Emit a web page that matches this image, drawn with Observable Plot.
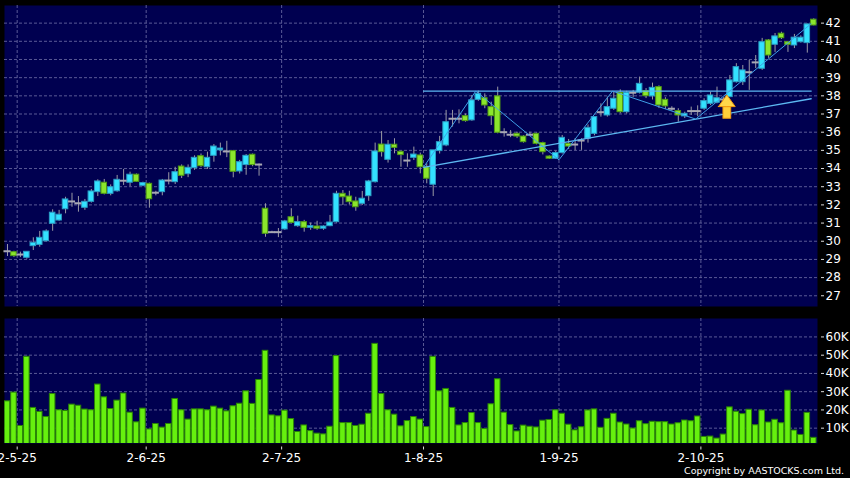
<!DOCTYPE html>
<html><head><meta charset="utf-8">
<script src="https://cdn.jsdelivr.net/npm/d3@7"></script>
<script src="https://cdn.jsdelivr.net/npm/@observablehq/plot@0.6"></script>
<style>
html,body{margin:0;padding:0;background:#000;}
#wrap{position:relative;width:850px;height:478px;overflow:hidden;background:#000;}
#wrap svg{display:block;}
#copy{position:absolute;right:6px;top:465px;line-height:12px;color:#fff;font:9.5px "DejaVu Sans",sans-serif;white-space:nowrap;}
</style></head><body><div id="wrap"></div>
<script>
// ---- data (trading-day index starts at -1) ----
const firstIndex = -1;
const open = [29.45,29.40,29.27,29.09,29.73,29.80,30.00,30.96,31.14,31.76,32.19,32.09,31.84,32.17,32.70,33.22,32.61,32.75,33.33,33.22,33.66,33.05,33.16,32.67,32.70,33.34,33.25,34.11,33.69,34.02,34.68,34.07,34.70,35.00,34.94,34.96,33.84,34.19,34.76,34.22,31.79,30.50,30.50,30.65,31.32,30.83,31.05,30.74,30.81,30.69,30.83,31.05,32.61,32.46,32.19,32.06,32.48,33.25,35.32,34.48,35.31,34.92,34.44,34.59,34.72,34.07,33.11,34.96,35.27,36.74,36.74,36.88,36.65,37.78,37.87,37.38,37.97,36.00,35.86,35.91,35.76,35.86,35.91,35.40,34.66,34.54,34.85,35.36,35.32,35.54,35.64,35.91,37.10,36.92,37.29,38.17,37.10,38.17,38.17,38.26,37.97,38.48,37.78,37.29,37.16,36.87,37.16,37.16,37.29,37.56,37.62,37.80,37.93,38.75,38.75,39.30,39.84,39.49,41.05,40.81,41.42,40.95,40.77,40.95,40.90,42.19];
const high = [29.82,29.45,29.40,29.42,30.19,30.54,30.63,31.73,31.70,32.42,32.64,32.46,32.30,32.85,33.38,33.40,33.10,33.62,33.95,33.80,33.70,33.25,33.20,32.75,33.40,33.77,34.07,34.20,34.20,34.70,34.80,34.90,35.32,35.40,35.50,35.00,34.45,34.77,34.80,34.25,32.06,30.55,30.70,31.15,31.79,31.38,31.15,31.00,31.10,30.85,31.42,32.75,32.79,32.75,32.42,32.74,33.35,35.40,36.04,35.54,35.64,34.95,34.81,35.18,34.85,34.26,35.00,35.77,37.20,37.20,37.23,37.00,38.02,38.26,38.11,37.65,38.48,36.19,36.09,36.00,35.80,36.00,35.95,35.45,34.70,34.95,35.82,35.60,35.64,35.64,36.40,36.85,37.56,37.93,38.20,38.33,38.25,38.30,39.03,38.40,38.70,38.55,37.90,37.40,37.29,37.10,37.38,37.45,37.84,38.20,38.48,37.90,39.12,39.77,39.67,39.95,40.22,41.16,41.10,41.43,41.50,41.00,41.38,41.30,41.95,42.24];
const low = [29.16,29.10,29.10,29.01,29.49,29.67,29.97,30.55,31.10,31.51,31.87,31.60,31.70,32.10,32.46,32.55,32.50,32.70,33.07,33.00,33.25,33.00,31.82,32.50,32.50,33.10,33.12,33.45,33.50,33.90,34.05,33.95,34.35,34.70,34.60,33.49,33.70,33.63,34.10,33.58,30.22,30.45,30.20,30.60,30.96,30.77,30.50,30.60,30.60,30.60,30.80,31.00,31.97,32.00,31.65,31.97,32.20,33.20,34.63,34.30,34.81,34.07,34.07,34.44,33.71,33.16,32.46,34.80,35.20,36.28,36.46,36.55,36.60,37.70,37.29,36.37,35.91,35.73,35.70,35.65,35.40,35.75,35.30,34.75,34.50,34.50,34.80,35.05,34.99,35.00,35.40,35.80,36.83,36.83,37.20,37.01,37.00,37.90,38.10,37.85,37.77,37.30,37.25,37.15,36.55,36.75,36.92,36.85,37.20,37.47,37.56,37.70,37.90,38.70,38.57,38.30,39.50,39.40,40.06,40.39,41.10,40.39,40.60,40.90,40.35,41.85];
const close = [29.45,29.18,29.27,29.42,29.91,30.19,30.54,31.57,31.46,32.30,32.19,32.09,32.17,32.74,33.29,32.61,32.97,33.38,33.33,33.66,33.27,33.20,32.31,32.67,33.34,33.34,33.80,33.60,34.04,34.59,34.13,34.59,35.21,35.10,34.94,33.82,34.35,34.70,34.19,34.22,30.41,30.50,30.50,31.09,31.01,31.05,30.74,30.83,30.69,30.81,31.03,32.61,32.42,32.15,31.87,32.34,33.29,34.94,34.90,35.31,35.14,34.74,34.44,34.77,34.07,33.44,35.00,35.45,36.55,36.74,36.74,36.61,37.75,38.11,37.47,36.88,35.97,36.00,35.86,35.76,35.45,35.86,35.36,34.90,34.54,34.85,35.69,35.21,35.32,35.54,36.24,36.83,37.10,37.38,37.84,37.10,38.17,38.17,38.66,37.98,38.44,37.47,37.42,37.29,36.92,37.01,37.16,37.16,37.71,38.02,37.87,37.80,38.85,39.58,39.40,39.30,39.84,40.95,40.22,41.27,41.17,40.81,41.20,41.20,41.93,41.87];
const volumeK = [24.7,29.5,11.2,49.1,21.1,18.9,16.1,28.7,19.8,19.4,22.9,22.3,20.2,19.8,33.9,26.9,20.5,25.1,29.0,18.5,13.2,20.7,9.3,12.3,10.3,12.3,26.0,19.8,14.7,20.3,20.3,19.8,21.8,20.7,19.2,22.0,23.4,30.2,23.3,36.4,52.4,17.0,16.5,19.6,15.0,7.9,11.5,8.4,7.0,6.6,10.8,49.5,12.8,12.8,11.2,11.9,17.9,56.2,28.7,19.8,17.4,11.0,13.9,16.1,14.7,10.6,49.1,30.2,31.5,21.1,11.5,12.8,18.3,12.8,9.5,23.1,36.8,18.5,11.7,8.2,11.4,10.8,10.4,14.1,14.5,19.8,17.9,11.9,8.8,10.5,19.7,20.3,10.2,15.1,17.9,13.1,12.0,9.8,13.8,12.2,13.5,13.3,13.3,12.0,12.7,14.2,13.8,16.4,5.2,5.4,4.3,6.5,21.4,19.0,17.7,20.1,11.6,19.7,13.1,14.6,12.7,30.5,8.7,6.3,18.4,4.7];

const dateTickPos = [0.5, 20.5, 41.5, 63.5, 84.5, 106.5];
const dateTickLabels = ["2-5-25","2-6-25","2-7-25","1-8-25","1-9-25","2-10-25"];
const priceTicks = [27,28,29,30,31,32,33,34,35,36,37,38,39,40,41,42];
const volumeTicks = [10000,20000,30000,40000,50000,60000];

// trend-line annotations (index, price)
const resistanceIdx = [63.5, 123.6];
const resistancePrice = [38.26, 38.26];
const supportIdx = [63.5, 123.6];
const supportPrice = [34.07, 37.84];
const zigzagIdx = [63.5, 71.6, 84.5, 92.8, 105.7, 123.6];
const zigzagPrice = [34.07, 38.26, 34.48, 38.26, 36.72, 41.97];
const arrowIdx = 110.6;
const arrowTip = 38.02, arrowNeck = 37.38, arrowBase = 36.74;

// ---- build ----
const candles = open.map((o, k) => ({t: k + firstIndex, o, h: high[k], l: low[k], c: close[k], v: volumeK[k] * 1000}));
const ups = candles.filter(d => d.c > d.o);
const downs = candles.filter(d => d.c < d.o);
const dojis = candles.filter(d => d.c === d.o);
const halfW = 0.43;
const xDomain = [-1.465, 124.58];
const gridColor = "#5a5a96";
const plotStyle = {background: "#000", color: "#fff", fontFamily: "DejaVu Sans, sans-serif", fontSize: "12px"};
const pts = (xs, ys) => xs.map((x, i) => ({x, y: ys[i]}));

const pricePlot = Plot.plot({
  width: 850, height: 310,
  marginLeft: 4, marginRight: 33, marginTop: 5, marginBottom: 4,
  style: plotStyle,
  x: {domain: xDomain, axis: null, label: null},
  y: {domain: [26.41, 42.97], axis: null, label: null},
  marks: [
    Plot.frame({fill: "#000050", stroke: "none"}),
    Plot.ruleY(priceTicks, {stroke: gridColor, strokeDasharray: "3,2"}),
    Plot.ruleX(dateTickPos, {stroke: gridColor, strokeDasharray: "3,2"}),
    Plot.ruleX(candles, {x: "t", y1: "l", y2: "h", stroke: "#9a9aa4"}),
    Plot.rect(ups, {x1: d => d.t - halfW, x2: d => d.t + halfW, y1: "o", y2: "c", fill: "#33e2ff", stroke: "#2b9cc4"}),
    Plot.rect(downs, {x1: d => d.t - halfW, x2: d => d.t + halfW, y1: "o", y2: "c", fill: "#8be62c", stroke: "#4f9a14"}),
    Plot.ruleY(dojis, {x1: d => d.t - 0.55, x2: d => d.t + 0.55, y: "o", stroke: "#a8a8b4", strokeWidth: 2}),
    Plot.line(pts(resistanceIdx, resistancePrice), {x: "x", y: "y", stroke: "#5cb8f2", strokeWidth: 1.3}),
    Plot.line(pts(supportIdx, supportPrice), {x: "x", y: "y", stroke: "#5cb8f2", strokeWidth: 1.3}),
    Plot.line(pts(zigzagIdx, zigzagPrice), {x: "x", y: "y", stroke: "#3f9ee6", strokeWidth: 1}),
    Plot.rect([0], {x1: arrowIdx - 0.6, x2: arrowIdx + 0.6, y1: arrowBase, y2: arrowNeck, fill: "#ffcf3a", stroke: "#f09a10"}),
    Plot.areaY(pts([arrowIdx - 1.3, arrowIdx, arrowIdx + 1.3], [arrowNeck, arrowTip, arrowNeck]), {x: "x", y1: arrowNeck, y2: "y", fill: "#ffd84a", stroke: "#f09a10"}),
    Plot.axisY(priceTicks, {anchor: "right", label: null, tickSize: 3, tickPadding: 2, dx: 3, stroke: "#ddd"})
  ]
});

const volPlot = Plot.plot({
  width: 850, height: 168,
  marginLeft: 4, marginRight: 33, marginTop: 8, marginBottom: 35,
  style: plotStyle,
  x: {domain: xDomain, axis: null, label: null},
  y: {domain: [1600, 70100], axis: null, label: null},
  marks: [
    Plot.frame({fill: "#000050", stroke: "none"}),
    Plot.ruleY(volumeTicks, {stroke: gridColor, strokeDasharray: "3,2"}),
    Plot.ruleX(dateTickPos, {stroke: gridColor, strokeDasharray: "3,2"}),
    Plot.rect(candles, {x1: d => d.t - halfW, x2: d => d.t + halfW, y1: 0, y2: "v", fill: "#66f00e", stroke: "#2a8406", clip: true}),
    Plot.axisY(volumeTicks, {anchor: "right", label: null, tickSize: 3, tickPadding: 2, dx: 3, stroke: "#ddd", tickFormat: d => (d / 1000) + "K"}),
    Plot.axisX(dateTickPos, {anchor: "bottom", label: null, tickSize: 3, tickPadding: 3, dy: 3.5, stroke: "#ddd", tickFormat: d => dateTickLabels[dateTickPos.indexOf(d)]})
  ]
});

const wrap = document.getElementById("wrap");
wrap.appendChild(pricePlot);
wrap.appendChild(volPlot);
const copy = document.createElement("div");
copy.id = "copy";
copy.textContent = "Copyright by AASTOCKS.com Ltd.";
wrap.appendChild(copy);
</script>
</body></html>
